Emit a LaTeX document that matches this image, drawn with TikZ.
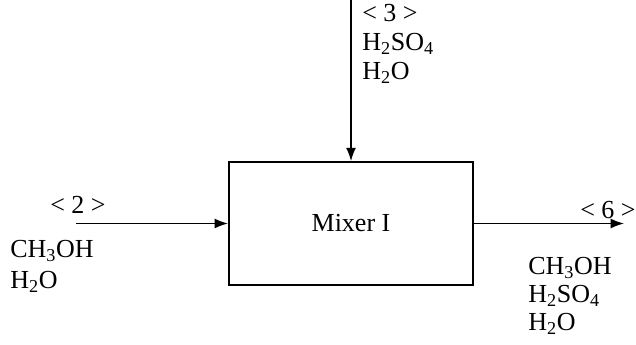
\documentclass[tikz,border=0pt]{standalone}
\usepackage{fontspec}
\setmainfont{Liberation Serif}
\usetikzlibrary{arrows.meta, positioning}

\begin{document}
\begin{tikzpicture}[x=0.75pt, y=0.75pt, font=\fontsize{19.5}{23}\selectfont,
  stream/.style={-{Latex[length=10pt, width=7.5pt]}, line width=1.2pt},
  lbl/.style={anchor=base west, inner sep=0pt}]

  \useasboundingbox (0,0) rectangle (636,344);

  % mixer unit
  \node[draw, line width=1.5pt, minimum width=183pt, minimum height=92pt] (mixer) at (351,120.5) {Mixer I};

  % stream ends
  \coordinate (in2) at (76,120.5);
  \coordinate (in3) at (351,344);
  \coordinate (out6) at (624,120.5);

  \draw[stream] (in2) -- (mixer.west);
  \draw[stream] (in3) -- (mixer.north);
  \draw[stream] (mixer.east) -- (out6);

  % stream 2
  \node[lbl] (s2) at (50,131) {< 2 >};
  \node[lbl] (s2a) at (10,87) {CH\textsubscript{3}OH};
  \node[lbl] (s2b) at (10,56) {H\textsubscript{2}O};

  % stream 3
  \node[lbl] (s3) at (362,323) {< 3 >};
  \node[lbl] (s3a) at (362,294) {H\textsubscript{2}SO\textsubscript{4}};
  \node[lbl] (s3b) at (362,265) {H\textsubscript{2}O};

  % stream 6
  \node[lbl] (s6) at (580,126) {< 6 >};
  \node[lbl] (s6a) at (528,70) {CH\textsubscript{3}OH};
  \node[lbl] (s6b) at (528,42) {H\textsubscript{2}SO\textsubscript{4}};
  \node[lbl] (s6c) at (528,14) {H\textsubscript{2}O};

\end{tikzpicture}
\end{document}
